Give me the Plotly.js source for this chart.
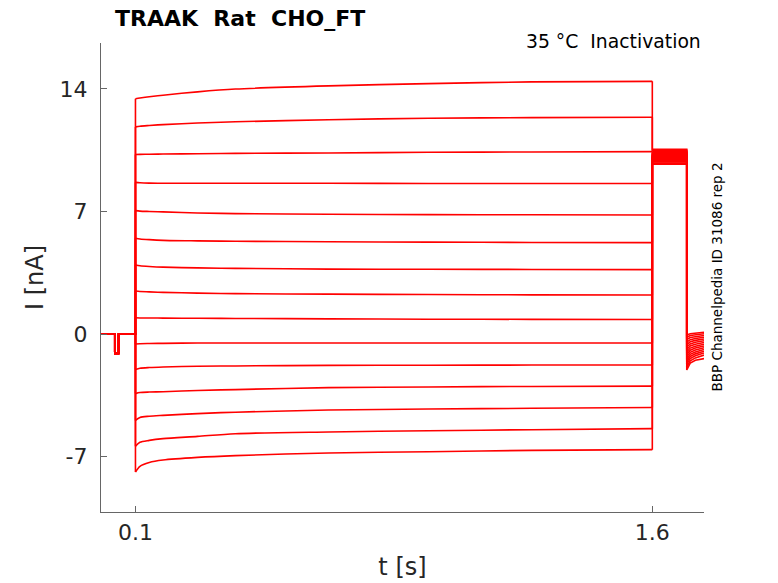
<!DOCTYPE html>
<html>
<head>
<meta charset="utf-8">
<script src="https://cdn.plot.ly/plotly-3.0.1.min.js"></script>
<style>
  html, body { margin: 0; padding: 0; background: #fff; }
  #chart { width: 778px; height: 583px; }
</style>
</head>
<body>
<div id="chart"></div>
<script>
// protocol timing (s)
const holdTimes = [0, 0.04, 0.04, 0.051, 0.051, 0.1];
const holdValues = [0, 0, -1.1, -1.1, 0, 0];

// sample times during the 1.5 s prepulse
const stepTimes = [0.1, 0.113, 0.14, 0.18, 0.28, 0.39, 0.66, 0.95, 1.25, 1.6];

// current during prepulse, one row per sweep (nA)
const sweep01 = [13.44, 13.48, 13.55, 13.64, 13.83, 13.99, 14.17, 14.30, 14.40, 14.43];
const sweep02 = [11.83, 11.87, 11.91, 11.96, 12.05, 12.12, 12.24, 12.32, 12.36, 12.38];
const sweep03 = [10.25, 10.26, 10.27, 10.28, 10.30, 10.32, 10.34, 10.38, 10.40, 10.42];
const sweep04 = [8.66, 8.64, 8.62, 8.61, 8.61, 8.61, 8.61, 8.60, 8.60, 8.60];
const sweep05 = [7.05, 7.02, 7.00, 6.98, 6.91, 6.88, 6.84, 6.82, 6.81, 6.80];
const sweep06 = [5.47, 5.43, 5.39, 5.35, 5.32, 5.30, 5.27, 5.25, 5.23, 5.22];
const sweep07 = [3.94, 3.90, 3.86, 3.82, 3.78, 3.75, 3.71, 3.70, 3.69, 3.68];
const sweep08 = [2.46, 2.43, 2.41, 2.38, 2.34, 2.31, 2.28, 2.26, 2.24, 2.23];
const sweep09 = [0.93, 0.92, 0.92, 0.91, 0.90, 0.89, 0.87, 0.85, 0.84, 0.83];
const sweep10 = [-0.57, -0.55, -0.54, -0.53, -0.51, -0.51, -0.51, -0.51, -0.51, -0.51];
const sweep11 = [-2.02, -1.95, -1.91, -1.88, -1.84, -1.82, -1.79, -1.78, -1.77, -1.77];
const sweep12 = [-3.40, -3.34, -3.31, -3.29, -3.22, -3.17, -3.06, -3.02, -2.99, -2.97];
const sweep13 = [-4.93, -4.76, -4.69, -4.64, -4.54, -4.46, -4.34, -4.28, -4.24, -4.19];
const sweep14 = [-6.41, -6.18, -6.07, -5.97, -5.84, -5.69, -5.59, -5.52, -5.46, -5.40];
const sweep15 = [-7.88, -7.55, -7.33, -7.19, -7.04, -6.94, -6.79, -6.72, -6.64, -6.60];
const sweeps = [sweep01, sweep02, sweep03, sweep04, sweep05, sweep06, sweep07, sweep08,
                sweep09, sweep10, sweep11, sweep12, sweep13, sweep14, sweep15];

// test pulse (1.6 - 1.7 s), one value per sweep
const testTimes = [1.6, 1.7];
const testValues = [10.55, 10.50, 10.44, 10.38, 10.32, 10.26, 10.20, 10.14,
                    10.08, 10.02, 9.96, 9.90, 9.83, 9.76, 9.70];

// tail after return to holding (1.7 - 1.75 s)
const tailTimes = [1.7, 1.71, 1.725, 1.75];
const tailStart = [-0.05, -0.18, -0.32, -0.46, -0.60, -0.74, -0.88, -1.02,
                   -1.16, -1.30, -1.44, -1.58, -1.72, -1.88, -2.05];
const tailMid = [0.02, -0.08, -0.20, -0.32, -0.44, -0.56, -0.68, -0.80,
                 -0.92, -1.04, -1.16, -1.28, -1.40, -1.53, -1.66];
const tailMid2 = [0.06, -0.03, -0.14, -0.25, -0.36, -0.47, -0.58, -0.69,
                  -0.80, -0.91, -1.02, -1.13, -1.24, -1.36, -1.50];
const tailEnd = [0.10, 0.02, -0.08, -0.18, -0.28, -0.38, -0.48, -0.58,
                 -0.68, -0.78, -0.88, -0.98, -1.08, -1.20, -1.40];

const xTicks = [0.1, 1.6];
const xTickText = ['0.1', '1.6'];
const yTicks = [-7, 0, 7, 14];
const yTickText = ['-7', '0', '7', '14'];

const red = '#ff0000';
let data = [];
sweeps.forEach(function(vals, i){
  // holding + step edges + test pulse + tail, straight segments
  let xs = [].concat(holdTimes, [0.1, null, 1.6], testTimes, tailTimes);
  let ys = [].concat(holdValues, [vals[0], null, vals[vals.length - 1]],
                     [testValues[i], testValues[i]],
                     [tailStart[i], tailMid[i], tailMid2[i], tailEnd[i]]);
  data.push({
    type: 'scatter', mode: 'lines', x: xs, y: ys,
    line: {color: red, width: 1.6},
    connectgaps: false, hoverinfo: 'skip', showlegend: false
  });
  // prepulse relaxation, smooth
  data.push({
    type: 'scatter', mode: 'lines', x: stepTimes, y: vals,
    line: {color: red, width: 1.6, shape: 'spline', smoothing: 0.8},
    hoverinfo: 'skip', showlegend: false
  });
});

const fontFam = 'DejaVu Sans, sans-serif';

let layout = {
  width: 778,
  height: 583,
  margin: {l: 101, r: 74, t: 43, b: 71},
  paper_bgcolor: '#fff',
  plot_bgcolor: '#fff',
  font: {family: fontFam, color: '#262626'},
  xaxis: {
    range: [0, 1.75],
    tickvals: xTicks,
    ticktext: xTickText,
    ticks: 'inside',
    ticklen: 6,
    tickcolor: '#666',
    tickfont: {size: 22, color: '#262626'},
    showline: true,
    linecolor: '#666',
    linewidth: 1.2,
    showgrid: false,
    zeroline: false,
    title: {text: 't [s]', font: {size: 24, color: '#262626'}, standoff: 14}
  },
  yaxis: {
    range: [-10.16, 16.62],
    tickvals: yTicks,
    ticktext: yTickText,
    ticks: 'inside',
    ticklen: 6,
    tickcolor: '#666',
    tickfont: {size: 22, color: '#262626'},
    ticklabelstandoff: 8,
    showline: true,
    linecolor: '#666',
    linewidth: 1.2,
    showgrid: false,
    zeroline: false,
    title: {text: 'I [nA]', font: {size: 24, color: '#262626'}, standoff: 9}
  },
  annotations: [
    {
      text: '<b>TRAAK  Rat  CHO_FT</b>',
      xref: 'paper', yref: 'paper', x: 0.02, y: 1.0, yshift: 25,
      xanchor: 'left', yanchor: 'middle', showarrow: false,
      font: {family: fontFam, size: 22, color: '#000'}
    },
    {
      text: '35 °C  Inactivation',
      xref: 'paper', yref: 'paper', x: 0.998, y: 1.0, yshift: 2,
      xanchor: 'right', yanchor: 'middle', showarrow: false,
      font: {family: fontFam, size: 18.8, color: '#000'}
    },
    {
      text: 'BBP Channelpedia ID 31086 rep 2',
      xref: 'paper', yref: 'paper', x: 1.0, xshift: 12, y: 0.5, yshift: 0,
      xanchor: 'center', yanchor: 'middle', showarrow: false, textangle: -90,
      font: {family: fontFam, size: 13.5, color: '#000'}
    }
  ]
};

Plotly.newPlot('chart', data, layout, {staticPlot: true, displayModeBar: false});
</script>
</body>
</html>
